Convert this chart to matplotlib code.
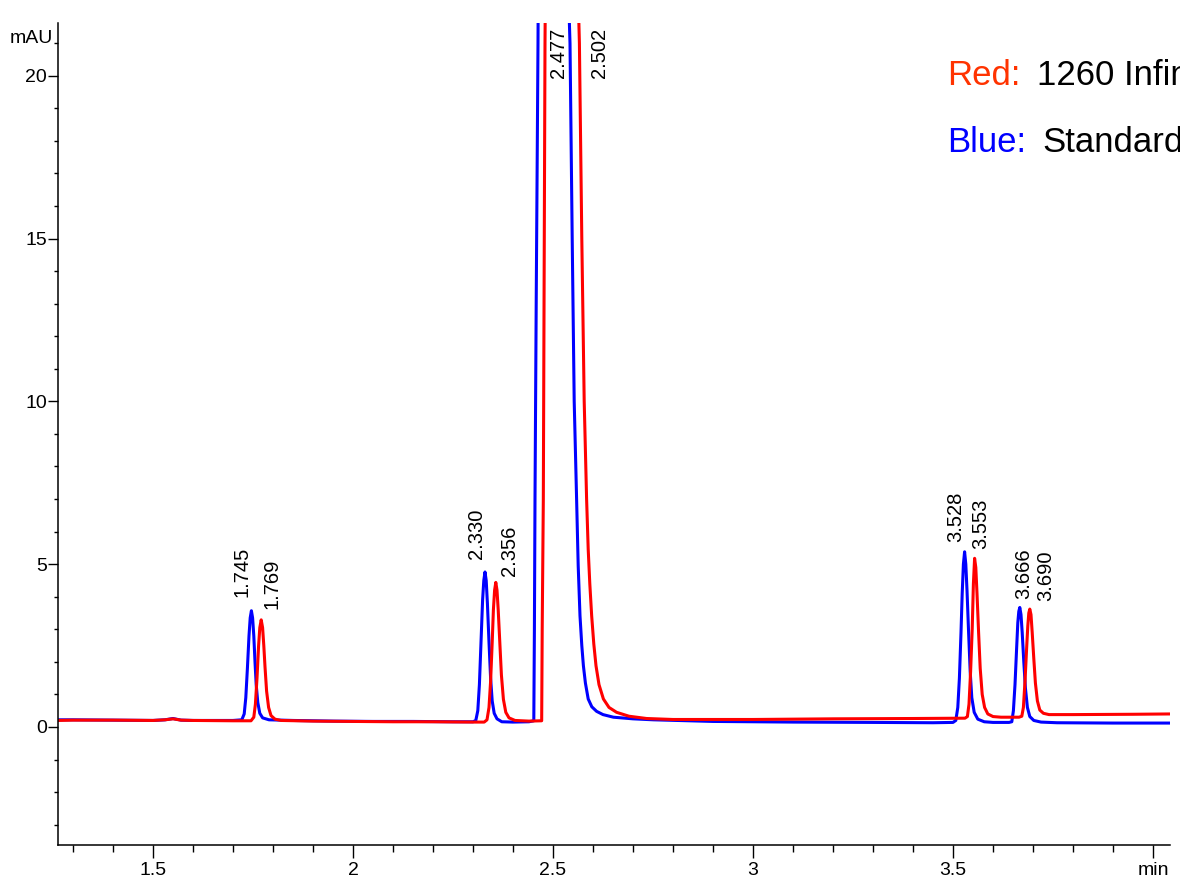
import matplotlib
matplotlib.use("Agg")
import matplotlib.pyplot as plt
from matplotlib.ticker import MultipleLocator, FixedLocator
import matplotlib.transforms as mtransforms

plt.rcParams['font.family'] = ['Liberation Sans', 'DejaVu Sans']

# blue trace (standard), time in min, signal in mAU
blue_t = [1.262, 1.30, 1.40, 1.50, 1.53, 1.55, 1.57, 1.60, 1.70,
          1.722, 1.728, 1.732, 1.736, 1.740, 1.743, 1.746, 1.749, 1.752, 1.755, 1.758,
          1.762, 1.767, 1.774, 1.790,
          1.85, 1.95, 2.05, 2.15, 2.25,
          2.300, 2.307, 2.312, 2.316, 2.320, 2.324, 2.327, 2.330, 2.333, 2.336, 2.340,
          2.344, 2.348, 2.353, 2.360, 2.372,
          2.40, 2.44,
          2.452, 2.4535, 2.455, 2.458, 2.4625, 2.468, 2.477, 2.490, 2.510, 2.530, 2.5425,
          2.548, 2.553, 2.559, 2.563, 2.5675, 2.572, 2.576, 2.581, 2.588, 2.597, 2.609,
          2.625, 2.651, 2.70, 2.751,
          2.90, 3.10, 3.30, 3.45,
          3.500, 3.507, 3.512, 3.516, 3.520, 3.523, 3.526, 3.529, 3.532, 3.535, 3.539,
          3.543, 3.547, 3.553, 3.562, 3.578, 3.600,
          3.640, 3.647, 3.651, 3.655, 3.659, 3.662, 3.6645, 3.667, 3.670, 3.673, 3.677,
          3.681, 3.686, 3.692, 3.702, 3.720, 3.760,
          3.90, 4.043]
blue_y = [0.22, 0.22, 0.21, 0.20, 0.22, 0.26, 0.21, 0.20, 0.20,
          0.22, 0.4, 0.9, 1.8, 2.8, 3.35, 3.57, 3.35, 2.8, 2.0, 1.3,
          0.75, 0.42, 0.28, 0.22,
          0.20, 0.18, 0.17, 0.17, 0.16,
          0.16, 0.2, 0.5, 1.3, 2.6, 3.9, 4.5, 4.76, 4.5, 3.8, 2.6,
          1.5, 0.8, 0.42, 0.25, 0.16,
          0.15, 0.16,
          0.19, 3, 7, 13, 21, 35, 55, 48, 36, 26, 21,
          15, 10, 7.0, 4.95, 3.41, 2.5, 1.88, 1.35, 0.86, 0.62, 0.48,
          0.38, 0.30, 0.25, 0.22,
          0.17, 0.15, 0.14, 0.13,
          0.14, 0.2, 0.6, 1.5, 2.9, 4.1, 5.0, 5.38, 5.0, 4.2, 2.9,
          1.7, 0.9, 0.45, 0.24, 0.16, 0.14,
          0.14, 0.16, 0.5, 1.3, 2.4, 3.2, 3.55, 3.67, 3.45, 2.9, 2.0,
          1.2, 0.6, 0.32, 0.2, 0.15, 0.13,
          0.12, 0.12]

# red trace (1260 Infinity)
red_t = [1.262, 1.30, 1.40, 1.50, 1.53, 1.55, 1.57, 1.60, 1.70,
         1.745, 1.752, 1.756, 1.760, 1.764, 1.767, 1.7705, 1.774, 1.777, 1.780, 1.784,
         1.789, 1.795, 1.805, 1.820,
         1.90, 2.00, 2.10, 2.20, 2.30,
         2.328, 2.335, 2.340, 2.344, 2.348, 2.351, 2.354, 2.357, 2.360, 2.363, 2.367,
         2.371, 2.376, 2.382, 2.390, 2.405, 2.440,
         2.4717, 2.473, 2.4758, 2.480, 2.490, 2.502, 2.520, 2.545, 2.566,
         2.572, 2.578, 2.584, 2.588, 2.592, 2.5967, 2.602, 2.6075, 2.615, 2.626, 2.640,
         2.659, 2.690, 2.734, 2.800,
         3.00, 3.20, 3.40,
         3.530, 3.536, 3.540, 3.544, 3.548, 3.551, 3.554, 3.557, 3.560, 3.564, 3.568,
         3.573, 3.579, 3.587, 3.600, 3.620,
         3.665, 3.672, 3.676, 3.680, 3.684, 3.687, 3.6895, 3.692, 3.695, 3.698, 3.702,
         3.706, 3.711, 3.717, 3.726, 3.740,
         3.800, 3.950, 4.043]
red_y = [0.20, 0.21, 0.21, 0.20, 0.22, 0.25, 0.21, 0.20, 0.19,
         0.19, 0.3, 0.7, 1.5, 2.5, 3.05, 3.29, 3.05, 2.5, 1.85, 1.1,
         0.6, 0.35, 0.24, 0.20,
         0.18, 0.17, 0.16, 0.16, 0.15,
         0.15, 0.22, 0.6, 1.4, 2.6, 3.6, 4.2, 4.44, 4.2, 3.6, 2.6,
         1.6, 0.85, 0.45, 0.28, 0.2, 0.18,
         0.19, 3, 7, 21, 38, 55, 45, 31, 21,
         15, 10, 7.0, 5.46, 4.4, 3.41, 2.55, 1.88, 1.3, 0.86, 0.6,
         0.45, 0.33, 0.26, 0.23,
         0.23, 0.25, 0.26,
         0.27, 0.32, 0.7, 1.7, 3.0, 4.4, 5.18, 4.9, 4.1, 2.9, 1.8,
         1.0, 0.6, 0.4, 0.32, 0.30,
         0.30, 0.33, 0.6, 1.4, 2.4, 3.1, 3.5, 3.62, 3.45, 2.9, 2.1,
         1.35, 0.8, 0.52, 0.42, 0.38,
         0.38, 0.39, 0.40]

# peak retention time labels
peak_labels = ["1.745", "1.769", "2.330", "2.356", "2.477", "2.502",
               "3.528", "3.553", "3.666", "3.690"]
label_x = [1.7225, 1.7975, 2.3075, 2.39, 2.5125, 2.6175, 3.5075, 3.57, 3.6775, 3.7325]
label_y = [4.0, 3.62, 5.15, 4.63, 19.94, 19.94, 5.67, 5.46, 3.93, 3.87]

xticks = [1.5, 2, 2.5, 3, 3.5, 4]
xticklabels = ["1.5", "2", "2.5", "3", "3.5", "min"]
yticks = [0, 5, 10, 15, 20]

fig = plt.figure(figsize=(11.8, 8.83), dpi=100)
ax = fig.add_axes([58/1180, 1-845/883, (1170-58)/1180, (845-22.7)/883])

ax.plot(blue_t, blue_y, color="#0000FF", lw=2.2, solid_joinstyle="round")
ax.plot(red_t, red_y, color="#FF0000", lw=2.2, solid_joinstyle="round")

for txt, x, y in zip(peak_labels, label_x, label_y):
    ax.text(x, y, txt, rotation=90, ha="center", va="bottom", fontsize=14.5)

ax.set_xlim(1.2625, 4.0425)
ax.set_ylim(-3.625, 21.63)

ax.spines["top"].set_visible(False)
ax.spines["right"].set_visible(False)
for s in ["left", "bottom"]:
    ax.spines[s].set_linewidth(1.1)

ax.xaxis.set_major_locator(FixedLocator(xticks))
ax.set_xticklabels(xticklabels)
ax.xaxis.set_minor_locator(MultipleLocator(0.1))
ax.yaxis.set_major_locator(FixedLocator(yticks))
ax.yaxis.set_minor_locator(MultipleLocator(1))
ax.tick_params(axis="x", which="major", length=9.5, width=1, labelsize=14, pad=3)
ax.tick_params(axis="x", which="minor", length=5, width=1)
ax.tick_params(axis="y", which="major", length=7, width=1, labelsize=14, pad=1)
ax.tick_params(axis="y", which="minor", length=3, width=1)

trans = mtransforms.blended_transform_factory(ax.transAxes, ax.transData)
ax.text(-0.005, 21.0, "mAU", transform=trans, ha="right", va="baseline", fontsize=14)

fig.text(947/1180, 1-85/883, "Red:", color="#FF3300", fontsize=25, va="baseline")
fig.text(1037/1180, 1-85/883, "1260 Infinity", color="black", fontsize=25, va="baseline")
fig.text(947/1180, 1-152/883, "Blue:", color="#0000FF", fontsize=25, va="baseline")
fig.text(1042/1180, 1-152/883, "Standard", color="black", fontsize=25, va="baseline")

fig.savefig("out.png", dpi=100)
